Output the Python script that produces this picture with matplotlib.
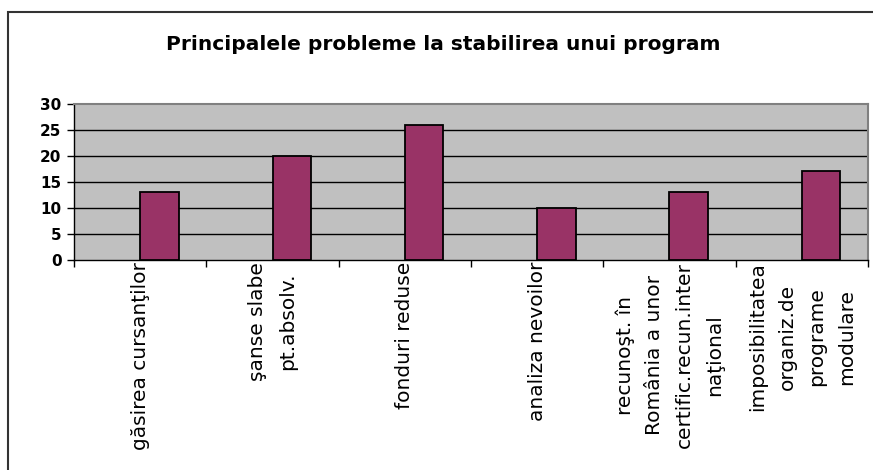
import matplotlib
matplotlib.use("Agg")
import matplotlib.pyplot as plt
from matplotlib.patches import Rectangle

categories = [
    "găsirea cursanţilor",
    "şanse slabe\npt.absolv.",
    "fonduri reduse",
    "analiza nevoilor",
    "recunoşt. în\nRomânia a unor\ncertific.recun.inter\nnaţional",
    "imposibilitatea\norganiz.de\nprograme\nmodulare",
]
values = [13, 20, 26, 10, 13, 17]
yticks = [0, 5, 10, 15, 20, 25, 30]
title = "Principalele probleme la stabilirea unui program"

W, H = 873, 470
fig = plt.figure(figsize=(W / 100, H / 100), dpi=100)
fig.patch.set_facecolor("white")

# outer chart border
fig.patches.append(Rectangle((8 / W, -0.05), 1.1, 1 - 12 / H + 0.05,
                             transform=fig.transFigure, fill=False,
                             edgecolor="#333333", linewidth=1.5))

ax = fig.add_axes([74 / W, 1 - 260 / H, (868 - 74) / W, (260 - 103.7) / H])
ax.set_facecolor("#C0C0C0")

x = list(range(len(categories)))
ax.bar(x, values, width=0.29, align="edge", color="#993366",
       edgecolor="black", linewidth=1.3, zorder=3)

ax.set_xlim(-0.5, len(categories) - 0.5)
ax.set_ylim(0, 30)
ax.set_yticks(yticks)
ax.set_yticklabels([str(v) for v in yticks], fontsize=11, fontweight="bold")
for v in yticks[1:-1]:
    ax.axhline(v, color="black", linewidth=1, zorder=1)

ax.set_xticks([i - 0.5 for i in range(len(categories) + 1)])
ax.set_xticklabels([])
ax.tick_params(axis="x", direction="out", length=5, width=1, color="black")
ax.tick_params(axis="y", direction="out", length=5, width=1, color="black", pad=4)

for s in ["top", "right"]:
    ax.spines[s].set_color("#808080")
    ax.spines[s].set_linewidth(1.5)
for s in ["left", "bottom"]:
    ax.spines[s].set_color("black")
    ax.spines[s].set_linewidth(1)

for i, lab in enumerate(categories):
    ax.text(i, -0.4, lab, rotation=90, ha="center", va="top",
            multialignment="center", fontsize=14.5, linespacing=1.72,
            transform=ax.transData, clip_on=False)

fig.text(443 / W, 1 - 45 / H, title, ha="center", va="center",
         fontsize=14.5, fontweight="bold")

fig.savefig("out.png", dpi=100)
